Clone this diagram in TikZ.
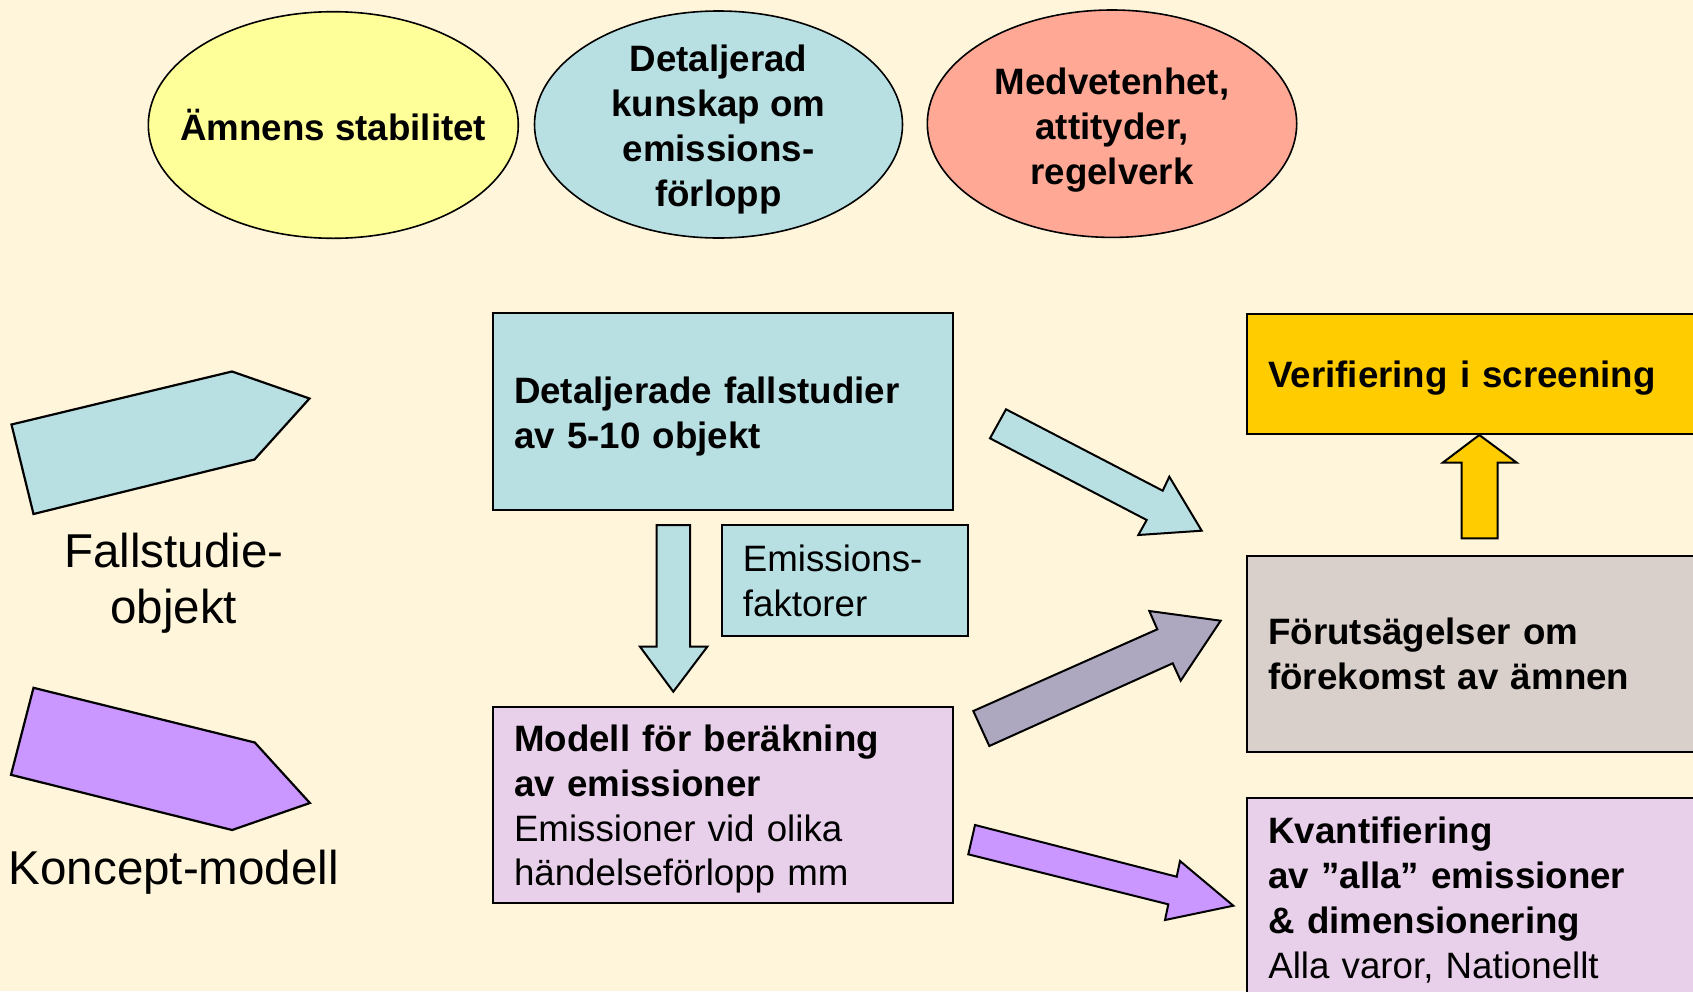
\documentclass[tikz,border=0pt]{standalone}
\usepackage{fontspec}
\setmainfont{Liberation Sans}
\usetikzlibrary{shapes.geometric}
\definecolor{bgcream}{HTML}{FFF5DA}
\definecolor{elyellow}{HTML}{FFFF99}
\definecolor{lcyan}{HTML}{B8E0E3}
\definecolor{salmon}{HTML}{FFA895}
\definecolor{lavgray}{HTML}{ADA8C0}
\definecolor{lpurple}{HTML}{CA96FF}
\definecolor{lpink}{HTML}{E9D0EA}
\definecolor{taupe}{HTML}{D9CFCB}
\definecolor{gold}{HTML}{FFCC00}
\newcommand\txtfont{\fontsize{36.7}{44.8}\selectfont}
\newcommand\lblfont{\fontsize{47.5}{56}\selectfont}
\tikzset{
  ell/.style={ellipse, draw=black, line width=1.6pt, inner sep=0pt},
  elltext/.style={inner sep=0pt, align=center, font=\txtfont\bfseries},
  boxshape/.style={rectangle, draw=black, line width=2pt, inner sep=0pt},
  boxtext/.style={inner sep=0pt, align=left, font=\txtfont},
  blockarrow/.style={draw=black, line width=2pt, line join=miter},
  pent/.style={draw=black, line width=2.2pt, line join=miter},
  lbl/.style={font=\lblfont, align=center, inner sep=0pt}
}
\begin{document}
\begin{tikzpicture}[x=1pt,y=-1pt]
\clip (0,0) rectangle (1693,991);
\fill[bgcream] (0,0) rectangle (1693,991);

% ellipses
\node[ell, fill=elyellow, minimum width=370pt, minimum height=226.6pt] (e1) at (333.3,125) {};
\node[elltext] (e1t) at (e1) {Ämnens stabilitet};
\node[ell, fill=lcyan, minimum width=368pt, minimum height=227pt] (e2) at (718.5,124.5) {};
\node[elltext, yshift=-5pt] (e2t) at (e2) {Detaljerad\\kunskap om\\emissions-\\förlopp};
\node[ell, fill=salmon, minimum width=369.4pt, minimum height=227.4pt] (e3) at (1112,123.7) {};
\node[elltext, yshift=-6.5pt] (e3t) at (e3) {Medvetenhet,\\attityder,\\regelverk};

% left pentagons
\fill[lcyan] (11.5,424.5) -- (232,371.5) -- (309.5,398.5) -- (254.5,459.5) -- (33.5,514) -- cycle;
\draw[pent] (11.5,424.5) -- (232,371.5) -- (309.5,398.5) -- (254.5,459.5) -- (33.5,514) -- cycle;
\fill[lpurple] (33.5,687.8) -- (254.8,742.5) -- (309.9,803) -- (232.1,830) -- (11,774.8) -- cycle;
\draw[pent] (33.5,687.8) -- (254.8,742.5) -- (309.9,803) -- (232.1,830) -- (11,774.8) -- cycle;
\node[lbl] (lfall) at (173.8,583) {Fallstudie-\\objekt};
\node[lbl, anchor=base] (lkon) at (173.8,884) {Koncept-modell};

% boxes
\node[boxshape, fill=lcyan, minimum width=460pt, minimum height=196.7pt] (det) at (722.7,411.65) {};
\node[boxtext, text width=417.4pt, yshift=-4.5pt] (dett) at (det) {\textbf{Detaljerade fallstudier}\\\textbf{av 5-10 objekt}};
\node[boxshape, fill=lcyan, minimum width=246.3pt, minimum height=111pt] (emi) at (845.15,580.5) {};
\node[boxtext, text width=204.5pt] (emit) at (emi) {Emissions-\\faktorer};
\node[boxshape, fill=lpink, minimum width=460pt, minimum height=195.9pt] (mod) at (722.7,804.65) {};
\node[boxtext, text width=417.4pt, yshift=-4.5pt] (modt) at (mod) {\textbf{Modell för beräkning}\\\textbf{av emissioner}\\Emissioner vid olika\\händelseförlopp mm};
\node[boxshape, fill=gold, minimum width=473pt, minimum height=120pt] (ver) at (1483.5,374) {};
\node[boxtext, text width=430.4pt, yshift=-4.5pt] (vert) at (ver) {\textbf{Verifiering i screening}};
\node[boxshape, fill=taupe, minimum width=473pt, minimum height=195.5pt] (for) at (1483.5,653.75) {};
\node[boxtext, text width=430.4pt] (fort) at (for) {\textbf{Förutsägelser om}\\\textbf{förekomst av ämnen}};
\node[boxshape, fill=lpink, minimum width=473pt, minimum height=197.4pt] (kva) at (1483.5,896.7) {};
\node[boxtext, text width=430.4pt, yshift=-3.5pt] (kvat) at (kva) {\textbf{Kvantifiering}\\\textbf{av ”alla” emissioner}\\\textbf{\& dimensionering}\\Alla varor, Nationellt};

% block arrows
\draw[blockarrow, fill=lcyan] (656.7,525) -- (690,525) -- (690,646.7) -- (707.3,646.7) -- (673.3,691.7) -- (640,646.7) -- (656.7,646.7) -- cycle;
\draw[blockarrow, fill=lcyan] (1006,409.3) -- (1162.7,490.7) -- (1169.3,476.7) -- (1201.7,530.7) -- (1138.3,535) -- (1146.7,520) -- (990,438.3) -- cycle;
\draw[blockarrow, fill=lavgray] (973.3,711) -- (1157.3,629.3) -- (1149.3,611) -- (1220.7,620.7) -- (1180.7,680.7) -- (1172.7,663.3) -- (989.3,746) -- cycle;
\draw[blockarrow, fill=lpurple] (975,825) -- (1176.7,876.7) -- (1180,861) -- (1233.3,905.7) -- (1165,920) -- (1168.3,904.3) -- (968.3,854.3) -- cycle;
\draw[blockarrow, fill=gold] (1461.7,538.3) -- (1497.7,538.3) -- (1497.7,462.7) -- (1516.7,462.7) -- (1479.3,435) -- (1442.7,462.7) -- (1461.7,462.7) -- cycle;
\end{tikzpicture}
\end{document}
